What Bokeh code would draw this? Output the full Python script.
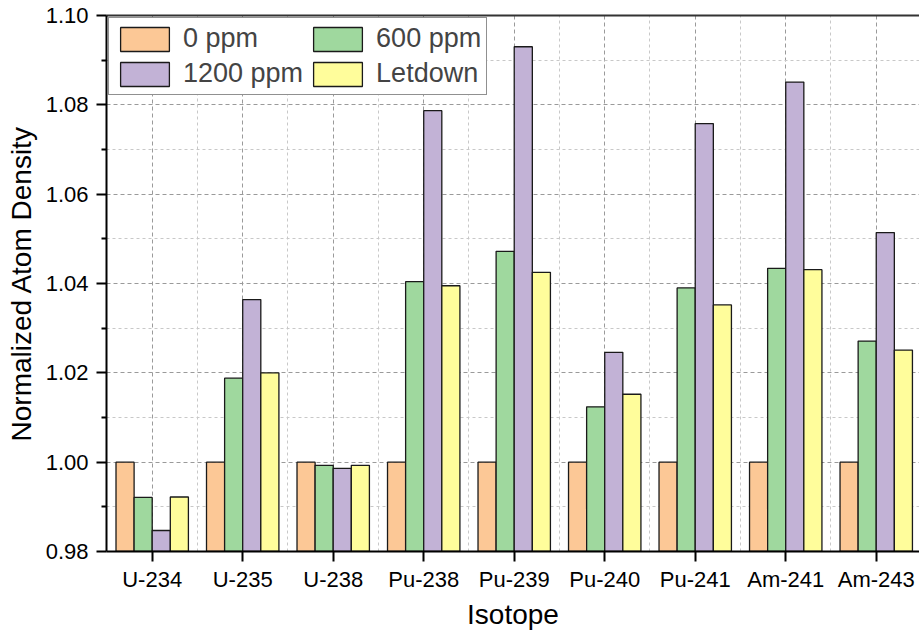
from bokeh.plotting import figure
from bokeh.models import (ColumnDataSource, FixedTicker, NumeralTickFormatter, Range1d,
                          Legend, LegendItem, LinearAxis)
from bokeh.embed import file_html
from bokeh.resources import INLINE

isotopes = ["U-234", "U-235", "U-238", "Pu-238", "Pu-239", "Pu-240", "Pu-241", "Am-241", "Am-243"]
ppm0 = [1.0, 1.0, 1.0, 1.0, 1.0, 1.0, 1.0, 1.0, 1.0]
ppm600 = [0.9921, 1.0188, 0.9993, 1.0404, 1.0472, 1.0124, 1.0390, 1.0434, 1.0271]
ppm1200 = [0.9847, 1.0364, 0.9986, 1.0787, 1.0930, 1.0246, 1.0758, 1.0851, 1.0514]
letdown = [0.9922, 1.0200, 0.9993, 1.0395, 1.0425, 1.0152, 1.0352, 1.0431, 1.0251]
series_names = ["0 ppm", "600 ppm", "1200 ppm", "Letdown"]
series_colors = ["#FCC896", "#9FD89E", "#C2B2D6", "#FFFD9B"]
y_ticks = [0.98, 1.00, 1.02, 1.04, 1.06, 1.08, 1.10]
y_minor = [0.99, 1.01, 1.03, 1.05, 1.07, 1.09]
y_min, y_max = 0.98, 1.10
x_title = "Isotope"
y_title = "Normalized Atom Density"

FONT = "Liberation Sans"

p = figure(width=919, height=633, output_backend="svg", toolbar_location=None,
           x_range=Range1d(-0.505, 8.478), y_range=Range1d(y_min, y_max),
           min_border_left=106, min_border_right=0, min_border_top=15, min_border_bottom=82)
p.outline_line_color = None
p.background_fill_color = "white"
p.border_fill_color = "white"

x = list(range(len(isotopes)))
offsets = [-0.3, -0.1, 0.1, 0.3]
all_series = [ppm0, ppm600, ppm1200, letdown]
renderers = []
for vals, off, col in zip(all_series, offsets, series_colors):
    src = ColumnDataSource(dict(x=[i + off for i in x], top=vals))
    r = p.vbar(x="x", top="top", bottom=y_min, width=0.2, source=src,
               fill_color=col, line_color="#1a1a1a", line_width=1.3)
    renderers.append(r)

# axes
p.xaxis.ticker = FixedTicker(ticks=x, minor_ticks=[i + 0.5 for i in range(-1, len(isotopes))])
p.xaxis.major_label_overrides = {i: n for i, n in zip(x, isotopes)}
p.yaxis.ticker = FixedTicker(ticks=y_ticks, minor_ticks=y_minor)
p.yaxis.formatter = NumeralTickFormatter(format="0.00")

for ax in (p.xaxis[0], p.yaxis[0]):
    ax.axis_line_width = 2
    ax.axis_line_color = "black"
    ax.major_tick_line_width = 2
    ax.major_tick_line_color = "black"
    ax.major_tick_in = 0
    ax.major_tick_out = 10
    ax.minor_tick_line_width = 2
    ax.minor_tick_line_color = "black"
    ax.minor_tick_in = 0
    ax.minor_tick_out = 5
    ax.major_label_text_font = FONT
    ax.major_label_text_font_size = "22px"
    ax.major_label_text_color = "black"
    ax.axis_label_text_font = FONT
    ax.axis_label_text_font_size = "28px"
    ax.axis_label_text_font_style = "normal"
    ax.axis_label_text_color = "black"
p.xaxis.minor_tick_line_color = None
p.xaxis.axis_label = x_title
p.yaxis.axis_label = y_title
p.xaxis.major_label_standoff = 5
p.xaxis.axis_label_standoff = 4
p.yaxis.major_label_standoff = 8
p.yaxis.axis_label_standoff = 6

top_axis = LinearAxis(ticker=FixedTicker(ticks=[]), axis_line_width=2, axis_line_color="#333333",
                      major_tick_out=0, minor_tick_out=0, major_label_text_font_size="0px")
p.add_layout(top_axis, "above")

# grids
for g in (p.xgrid[0], p.ygrid[0]):
    g.grid_line_color = "#9a9a9a"
    g.grid_line_dash = "4 3"
    g.grid_line_width = 1
    g.minor_grid_line_color = "#c8c8c8"
    g.minor_grid_line_dash = "3 3"
    g.minor_grid_line_width = 1

# legend: column-major filling, so order gives rows (0 ppm, 600 ppm) / (1200 ppm, Letdown)
order = [0, 2, 1, 3]
legend = Legend(items=[LegendItem(label=series_names[k], renderers=[renderers[k]]) for k in order],
                location="top_left", ncols=2, glyph_width=61, glyph_height=30,
                label_text_font=FONT, label_text_font_size="27px", label_standoff=8,
                label_width=0, spacing=4, padding=5, margin=2,
                border_line_color="#222222", border_line_width=1.5,
                background_fill_alpha=1.0, label_height=30)
p.add_layout(legend, "center")

open("out.html", "w").write(file_html(p, INLINE))
